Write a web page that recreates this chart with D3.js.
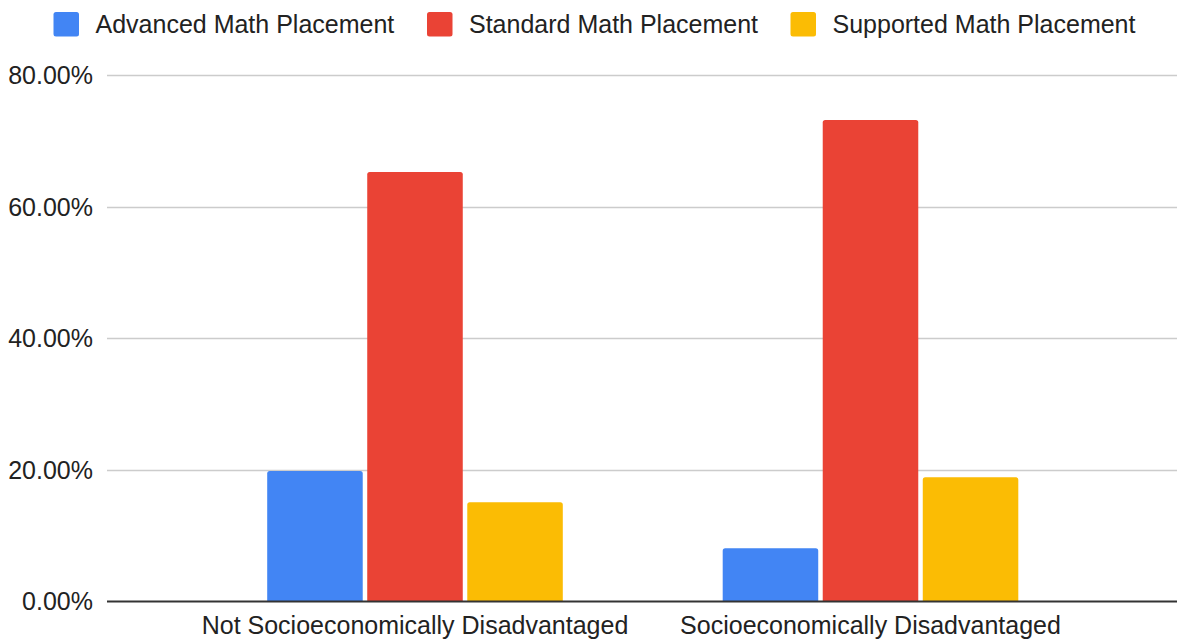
<!DOCTYPE html>
<html>
<head>
<meta charset="utf-8">
<script src="https://cdn.jsdelivr.net/npm/d3@7"></script>
<style>
  html, body { margin: 0; padding: 0; background: #fff; }
  svg { display: block; font-family: "Liberation Sans", Arial, sans-serif; }
</style>
</head>
<body>
<svg id="chart" width="1177" height="642"></svg>
<script>
// Share of students in each math placement, by socioeconomic status
const categories = ["Not Socioeconomically Disadvantaged", "Socioeconomically Disadvantaged"];
const seriesNames = ["Advanced Math Placement", "Standard Math Placement", "Supported Math Placement"];
const advanced = [19.77, 8.02];
const standard = [65.25, 73.16];
const supported = [15.01, 18.81];
const yTicks = [0, 20, 40, 60, 80];
const colors = ["#4285F4", "#EA4335", "#FBBC04"];

const seriesValues = [advanced, standard, supported];
const rows = categories.map((c, i) => ({
  category: c,
  values: seriesNames.map((s, k) => ({ series: s, idx: k, value: seriesValues[k][i] }))
}));

const W = 1177, H = 642;
const svg = d3.select("#chart");
const gridLeft = 107, gridRight = 1177;
const fontSize = 25;

const y = d3.scaleLinear().domain([0, 80]).range([601, 75]);

// Category groups, each 455.5px apart, bars packed in the middle 295px
const x0 = d3.scaleBand().domain(categories).range([187.25, 1098.25]).paddingInner(0).paddingOuter(0);
const groupW = 295.6;
const x1 = d3.scaleBand().domain(seriesNames)
  .range([(x0.bandwidth() - groupW) / 2, (x0.bandwidth() + groupW) / 2])
  .paddingInner(0.045).paddingOuter(0);

// Horizontal gridlines
svg.append("g")
  .selectAll("line")
  .data(yTicks.filter(t => t !== 0))
  .join("line")
  .attr("x1", gridLeft).attr("x2", gridRight)
  .attr("y1", d => Math.round(y(d)) + 0.5).attr("y2", d => Math.round(y(d)) + 0.5)
  .attr("stroke", "#cccccc").attr("stroke-width", 1.5);

// Y-axis labels
const yAxis = d3.axisLeft(y).tickValues(yTicks).tickSize(0).tickPadding(0)
  .tickFormat(d => d3.format(".2f")(d) + "%");
const yg = svg.append("g").attr("transform", `translate(93,0)`).call(yAxis);
yg.select(".domain").remove();
yg.selectAll("text")
  .attr("font-size", fontSize).attr("fill", "#222")
  .attr("font-family", "'Liberation Sans', Arial, sans-serif")
  .attr("dy", "0.35em");

// Bars with slightly rounded top corners
function barPath(x, yTop, w, yBase, r) {
  const h = yBase - yTop;
  r = Math.min(r, h, w / 2);
  return `M${x},${yBase}V${yTop + r}Q${x},${yTop} ${x + r},${yTop}H${x + w - r}Q${x + w},${yTop} ${x + w},${yTop + r}V${yBase}Z`;
}

const groups = svg.append("g")
  .selectAll("g")
  .data(rows)
  .join("g")
  .attr("transform", d => `translate(${x0(d.category)},0)`);

groups.selectAll("path")
  .data(d => d.values)
  .join("path")
  .attr("d", d => barPath(x1(d.series), y(d.value), x1.bandwidth(), y(0), 2.5))
  .attr("fill", d => colors[d.idx]);

// Baseline
svg.append("line")
  .attr("x1", gridLeft).attr("x2", gridRight)
  .attr("y1", y(0) + 0.5).attr("y2", y(0) + 0.5)
  .attr("stroke", "#333333").attr("stroke-width", 2);

// Category labels
const xAxis = d3.axisBottom(x0).tickSize(0).tickPadding(0);
const xg = svg.append("g").attr("transform", `translate(0,${y(0)})`).call(xAxis);
xg.select(".domain").remove();
xg.selectAll("text")
  .attr("font-size", fontSize).attr("fill", "#222")
  .attr("font-family", "'Liberation Sans', Arial, sans-serif")
  .attr("dy", 0).attr("y", 33);

// Legend
const legendX = [53.5, 427, 790.5];
const legend = svg.append("g")
  .selectAll("g")
  .data(seriesNames)
  .join("g")
  .attr("transform", (d, i) => `translate(${legendX[i]},0)`);
legend.append("rect")
  .attr("x", 0).attr("y", 12).attr("width", 25.5).attr("height", 24.5)
  .attr("rx", 2.5).attr("fill", (d, i) => colors[i]);
legend.append("text")
  .attr("x", 42).attr("y", 24).attr("dy", "0.35em")
  .attr("font-size", fontSize).attr("fill", "#222")
  .text(d => d);
</script>
</body>
</html>
